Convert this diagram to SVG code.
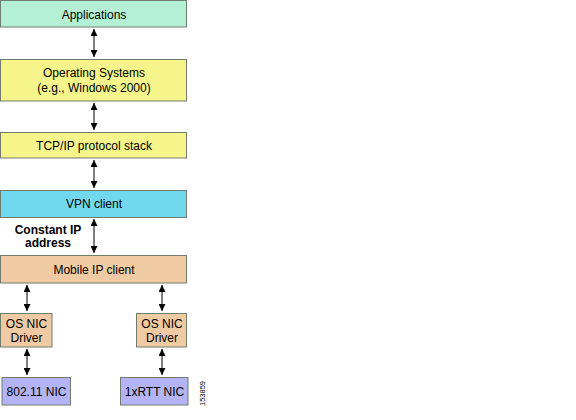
<svg xmlns="http://www.w3.org/2000/svg" width="576" height="420" viewBox="0 0 576 420">
<defs>
<marker id="ah" viewBox="0 0 10 10" refX="10" refY="5" markerWidth="7" markerHeight="7" orient="auto-start-reverse" markerUnits="userSpaceOnUse">
<path d="M0,0 L10,5 L0,10 z" fill="#000"/>
</marker>
<style>
.box{stroke:#6e7d6e;stroke-width:1}
.t{font-family:"Liberation Sans",Arial,sans-serif;font-size:12px;fill:#000;text-anchor:middle}
.b{font-family:"Liberation Sans",Arial,sans-serif;font-size:12px;font-weight:bold;fill:#000;text-anchor:middle}
.c{stroke:#000;stroke-width:1;fill:none;marker-start:url(#ah);marker-end:url(#ah)}
</style>
</defs>
<rect width="576" height="420" fill="#fff"/>
<g id="applications"><rect class="box" x="0.5" y="0.5" width="186" height="26.5" fill="#b4f0d4"/><text class="t" x="94" y="19">Applications</text></g>
<g id="os"><rect class="box" x="0.5" y="59.5" width="186" height="41.5" fill="#f5f58c"/><text class="t" x="94" y="76.5">Operating Systems</text><text class="t" x="94" y="92">(e.g., Windows 2000)</text></g>
<g id="tcpip"><rect class="box" x="0.5" y="132.5" width="186" height="25.5" fill="#f5f58c"/><text class="t" x="94" y="149.5">TCP/IP protocol stack</text></g>
<g id="vpn"><rect class="box" x="0.5" y="190.5" width="186" height="27" fill="#72d8ee"/><text class="t" x="94" y="208">VPN client</text></g>
<g id="mobileip"><rect class="box" x="0.5" y="255.5" width="186" height="27.5" fill="#efcaa2"/><text class="t" x="94" y="274">Mobile IP client</text></g>
<g id="driver1"><rect class="box" x="0.5" y="313.5" width="51.5" height="33.5" fill="#efcaa2"/><text class="t" x="26.5" y="327.5">OS NIC</text><text class="t" x="26.5" y="341.5">Driver</text></g>
<g id="driver2"><rect class="box" x="136.5" y="313.5" width="50" height="33.5" fill="#efcaa2"/><text class="t" x="162" y="327.5">OS NIC</text><text class="t" x="162" y="341.5">Driver</text></g>
<g id="nic80211"><rect class="box" x="2" y="377.5" width="68.5" height="27.5" fill="#b3b3f5"/><text class="t" x="36.5" y="395.5">802.11 NIC</text></g>
<g id="nic1xrtt"><rect class="box" x="120.5" y="377.5" width="67.5" height="27.5" fill="#b3b3f5"/><text class="t" x="154.5" y="395.5">1xRTT NIC</text></g>
<g id="label"><text class="b" x="48" y="234">Constant IP</text><text class="b" x="48" y="246.5">address</text></g>
<text x="0" y="0" transform="translate(204.5,393.5) rotate(-90)" font-family="Liberation Sans,Arial,sans-serif" font-size="7.5" text-anchor="middle">153859</text>
<g id="connectors">
<line class="c" x1="94" y1="29" x2="94" y2="57"/>
<line class="c" x1="94" y1="103" x2="94" y2="130"/>
<line class="c" x1="94" y1="160" x2="94" y2="188"/>
<line class="c" x1="94" y1="219" x2="94" y2="253"/>
<line class="c" x1="27" y1="285" x2="27" y2="311"/>
<line class="c" x1="162" y1="285" x2="162" y2="311"/>
<line class="c" x1="27" y1="349" x2="27" y2="375"/>
<line class="c" x1="162" y1="349" x2="162" y2="375"/>
</g>
</svg>
